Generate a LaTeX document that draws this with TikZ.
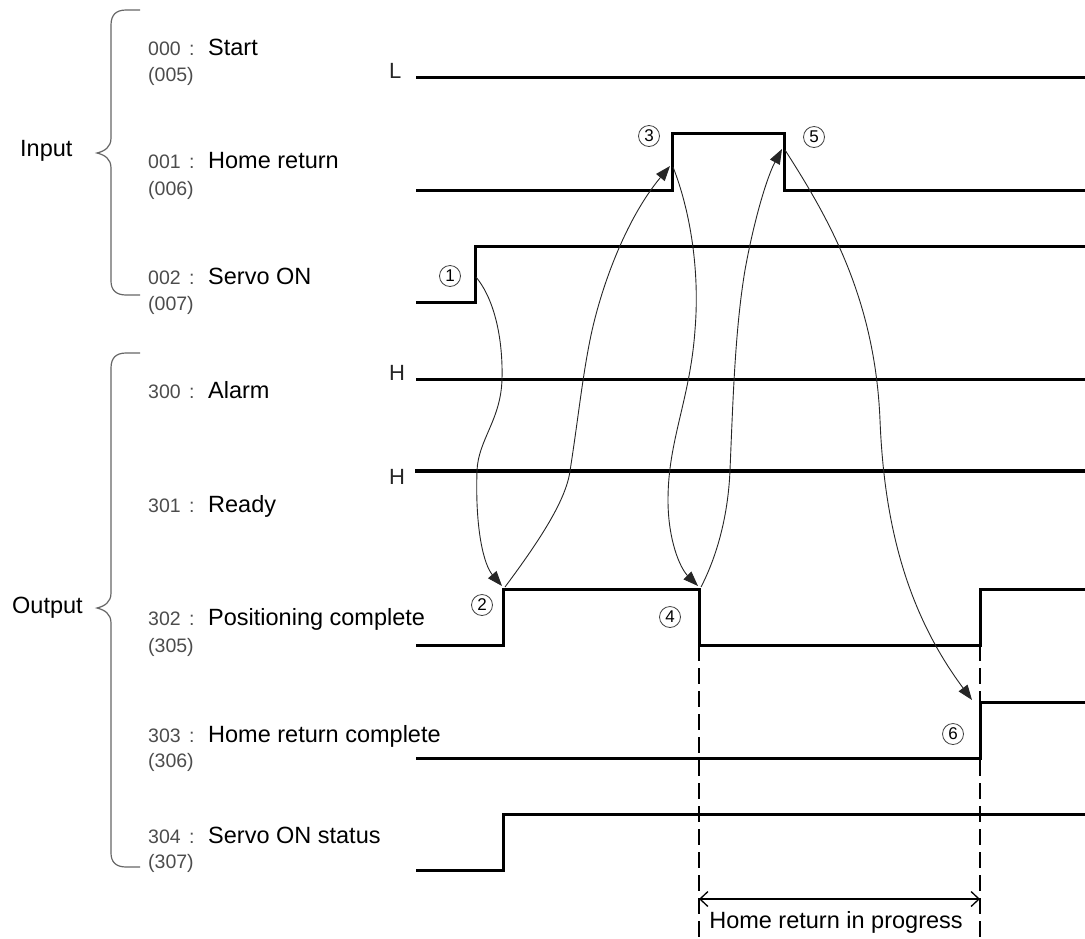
\documentclass[tikz,border=0pt]{standalone}
\usepackage{fontspec}
\setmainfont{Liberation Sans}
\usetikzlibrary{arrows.meta}
\begin{document}
\begin{tikzpicture}[x=1pt,y=-1pt,
  sig/.style={line width=3pt, line join=miter, line cap=rect},
  conn/.style={line width=0.9pt, black!85, -{Triangle[length=15pt,width=11pt]}},
  brace/.style={line width=1.2pt, black!60},
  lbl/.style={anchor=base west, inner sep=0pt, font=\fontsize{23.5}{28}\selectfont},
  code/.style={anchor=base west, inner sep=0pt, font=\fontsize{19.5}{23}\selectfont, text=black!70},
  paren/.style={anchor=west, inner sep=0pt, font=\fontsize{19.5}{23}\selectfont, text=black!70},
  lvl/.style={anchor=base west, inner sep=0pt, font=\fontsize{22}{26}\selectfont, text=black!85},
  num/.style={circle, draw=black!75, line width=0.8pt, minimum size=21pt, inner sep=0pt, font=\fontsize{17}{17}\selectfont},
  dashline/.style={line width=1.3pt, dash pattern=on 16pt off 7pt},
  dim/.style={line width=1.3pt, {Straight Barb[length=8pt,width=15pt]}-{Straight Barb[length=8pt,width=15pt]}}
]
\useasboundingbox (0,0) rectangle (1085,938);

% group labels and braces
\node[lbl, anchor=west] (input) at (20,151) {Input};
\node[lbl, anchor=west] (output) at (12,608) {Output};
\draw[brace] (140,10) -- (126,10) .. controls (116,10) and (111,15) .. (111,25) -- (111,138)
  .. controls (111,147) and (105,151) .. (97,153) .. controls (105,155) and (111,159) .. (111,168)
  -- (111,281) .. controls (111,290) and (116,295) .. (126,295) -- (140,295);
\draw[brace] (140,353) -- (126,353) .. controls (116,353) and (111,358) .. (111,368) -- (111,593)
  .. controls (111,602) and (105,606) .. (97,608) .. controls (105,610) and (111,614) .. (111,623)
  -- (111,853) .. controls (111,862) and (116,867) .. (126,867) -- (140,867);

% signal labels
\node[code] (c000) at (148,55) {000}; \node[code] (k000) at (189,55) {:}; \node[lbl] (n000) at (208,55) {Start};
\node[paren] (p005) at (148,76) {(005)};
\node[code] (c001) at (148,168) {001}; \node[code] (k001) at (189,168) {:}; \node[lbl] (n001) at (208,168) {Home return};
\node[paren] (p006) at (148,190) {(006)};
\node[code] (c002) at (148,284) {002}; \node[code] (k002) at (189,284) {:}; \node[lbl] (n002) at (208,284) {Servo ON};
\node[paren] (p007) at (148,305) {(007)};
\node[code] (c300) at (148,398) {300}; \node[code] (k300) at (189,398) {:}; \node[lbl] (n300) at (208,398) {Alarm};
\node[code] (c301) at (148,512) {301}; \node[code] (k301) at (189,512) {:}; \node[lbl] (n301) at (208,512) {Ready};
\node[code] (c302) at (148,625) {302}; \node[code] (k302) at (189,625) {:}; \node[lbl] (n302) at (208,625) {Positioning complete};
\node[paren] (p305) at (148,647) {(305)};
\node[code] (c303) at (148,742) {303}; \node[code] (k303) at (189,742) {:}; \node[lbl] (n303) at (208,742) {Home return complete};
\node[paren] (p306) at (148,762) {(306)};
\node[code] (c304) at (148,843) {304}; \node[code] (k304) at (189,843) {:}; \node[lbl] (n304) at (208,843) {Servo ON status};
\node[paren] (p307) at (148,863) {(307)};

% level markers
\node[lvl] (lvL) at (389,78) {L};
\node[lvl] (lvH1) at (389,380) {H};
\node[lvl] (lvH2) at (389,484) {H};

% signals
\draw[sig] (417,77) -- (1085,77);
\draw[sig] (417,190) -- (672,190) -- (672,133) -- (784,133) -- (784,190) -- (1085,190);
\draw[sig] (417,302) -- (475,302) -- (475,246) -- (1085,246);
\draw[sig] (417,379) -- (1085,379);
\draw[sig, line width=3.5pt] (417,471) -- (1085,471);
\draw[sig] (417,645) -- (503,645) -- (503,589) -- (699,589) -- (699,645) -- (980,645) -- (980,589) -- (1085,589);
\draw[sig] (417,758) -- (980,758) -- (980,702) -- (1085,702);
\draw[sig] (417,870) -- (503,870) -- (503,814) -- (1085,814);

% event points
\coordinate (e1) at (476,277);
\coordinate (e2) at (502,586);
\coordinate (e2s) at (505,587);
\coordinate (e3) at (670,166);
\coordinate (e3s) at (673,167);
\coordinate (e4) at (698,586);
\coordinate (e4s) at (701,587);
\coordinate (e5) at (782,149);
\coordinate (e5s) at (785,150);
\coordinate (e6) at (972,700);

% numbered markers
\node[num] (m1) at (450,276) {1};
\node[num] (m2) at (482,605) {2};
\node[num] (m3) at (649,136) {3};
\node[num] (m4) at (670,617) {4};
\node[num] (m5) at (814,137) {5};
\node[num] (m6) at (953,734) {6};

% causal connectors
\draw[conn] (e1) .. controls (495,300) and (503,340) .. (502,379)
  .. controls (501,420) and (478,440) .. (477,471)
  .. controls (475,530) and (484,565) .. (e2);
\draw[conn] (e2s) .. controls (540,540) and (566,500) .. (570,471)
  .. controls (578,420) and (582,380) .. (590,340)
  .. controls (600,290) and (625,220) .. (e3);
\draw[conn] (e3s) .. controls (690,210) and (700,270) .. (695,330)
  .. controls (690,400) and (668,440) .. (668,500)
  .. controls (668,540) and (680,568) .. (e4);
\draw[conn] (e4s) .. controls (715,560) and (728,520) .. (730,470)
  .. controls (733,400) and (735,330) .. (745,270)
  .. controls (755,215) and (768,175) .. (e5);
\draw[conn] (e5s) .. controls (830,220) and (875,300) .. (880,420)
  .. controls (884,520) and (905,610) .. (e6);

% home return in progress
\coordinate (d1t) at (699,645); \coordinate (d1b) at (699,938);
\coordinate (d2t) at (980,645); \coordinate (d2b) at (980,938);
\draw[dashline] (d1t) -- (d1b);
\draw[dashline] (d2t) -- (d2b);
\coordinate (a1) at (699,899); \coordinate (a2) at (980,899);
\draw[dim] (a1) -- (a2);
\node[lbl, anchor=base] (hrip) at (836,928) {Home return in progress};
\end{tikzpicture}
\end{document}
